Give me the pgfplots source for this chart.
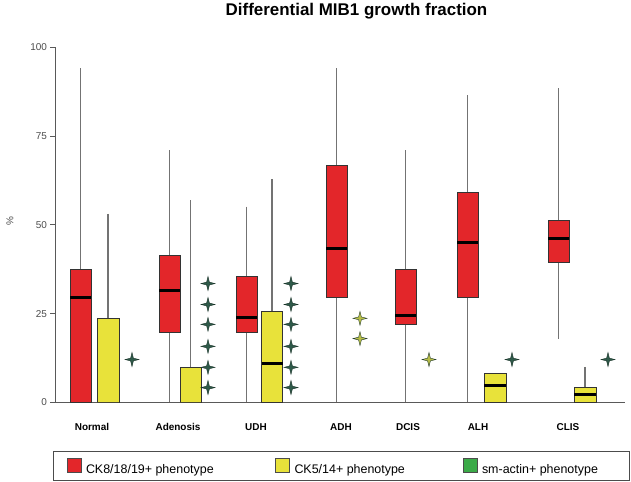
\documentclass[border=0pt]{standalone}
\usepackage{fontspec}
\setmainfont{Liberation Sans}
\usepackage{pgfplots}
\pgfplotsset{compat=1.18}
\usepgfplotslibrary{statistics}
\definecolor{cRed}{HTML}{E3262A}
\definecolor{cYel}{HTML}{E8E23A}
\definecolor{cGrn}{HTML}{3BAA48}
\definecolor{starDark}{HTML}{2F5A4A}
\definecolor{starEdge}{HTML}{1A3328}
\definecolor{starLight}{HTML}{B8BE48}
\pgfdeclareplotmark{fourstar}{%
  \pgfpathmoveto{\pgfpoint{0pt}{\pgfplotmarksize}}%
  \pgfpathlineto{\pgfpoint{0.2\pgfplotmarksize}{0.2\pgfplotmarksize}}%
  \pgfpathlineto{\pgfpoint{\pgfplotmarksize}{0pt}}%
  \pgfpathlineto{\pgfpoint{0.2\pgfplotmarksize}{-0.2\pgfplotmarksize}}%
  \pgfpathlineto{\pgfpoint{0pt}{-\pgfplotmarksize}}%
  \pgfpathlineto{\pgfpoint{-0.2\pgfplotmarksize}{-0.2\pgfplotmarksize}}%
  \pgfpathlineto{\pgfpoint{-\pgfplotmarksize}{0pt}}%
  \pgfpathlineto{\pgfpoint{-0.2\pgfplotmarksize}{0.2\pgfplotmarksize}}%
  \pgfpathclose
  \pgfusepathqfillstroke
}
\begin{document}
\begin{tikzpicture}
\path (0,0) rectangle (631bp,477bp);
\begin{axis}[
  at={(55bp,76bp)}, anchor=south west,
  scale only axis, width=570bp, height=355bp,
  xmin=55, xmax=625, ymin=0, ymax=100,
  axis x line=bottom, axis y line=left,
  axis line style={-, draw=black!65, line width=1bp},
  ytick={0,25,50,75,100},
  tick align=outside, major tick length=4.5bp,
  ytick style={draw=black!65, line width=1bp},
  xtick={92,178,256,341,408,478,568},
  xticklabels={Normal,Adenosis,UDH,ADH,DCIS,ALH,CLIS},
  xtick style={draw=none},
  xticklabel style={font=\bfseries\fontsize{10}{12}\selectfont, yshift=-13bp},
  yticklabel style={font=\fontsize{10}{12}\selectfont, text=black!70},
  /pgf/number format/assume math mode=true,
  title={Differential MIB1 growth fraction},
  title style={font=\bfseries\fontsize{17}{20}\selectfont, at={(axis description cs:0.529,1.073)}, anchor=base},
  ylabel={\%},
  ylabel style={at={(axis description cs:-0.079,0.51)}, anchor=center, font=\fontsize{10}{12}\selectfont, text=black!70},
  boxplot/draw direction=y,
  boxplot/whisker extend=0,
  boxplot/every whisker/.style={draw=black!55, line width=1.3bp},
  boxplot/every median/.style={draw=black, line width=2.8bp},
  boxplot/every box/.style={draw=black!80, line width=0.6bp},
  legend columns=3,
  legend style={at={(axis description cs:-0.0035,-0.138)}, anchor=north west, draw=black!70, line width=1bp, inner xsep=13bp, inner ysep=6bp, column sep=5bp, font=\fontsize{12.5}{15}\selectfont, nodes={inner sep=0pt}},
]
% CK8/18/19+ (red)
\addplot[forget plot, fill=cRed, boxplot prepared={draw position=80.5, lower whisker=0, lower quartile=0, median=29.6, upper quartile=37.5, upper whisker=94.2, box extend=21}] coordinates {};
\addplot[forget plot, fill=cRed, boxplot prepared={draw position=169.5, lower whisker=0, lower quartile=19.7, median=31.5, upper quartile=41.4, upper whisker=71, box extend=21}] coordinates {};
\addplot[forget plot, fill=cRed, boxplot prepared={draw position=246.5, lower whisker=0, lower quartile=19.7, median=24, upper quartile=35.5, upper whisker=55.2, box extend=21}] coordinates {};
\addplot[forget plot, fill=cRed, boxplot prepared={draw position=336.5, lower whisker=0, lower quartile=29.6, median=43.4, upper quartile=66.8, upper whisker=94.2, box extend=21}] coordinates {};
\addplot[forget plot, fill=cRed, boxplot prepared={draw position=405.5, lower whisker=0, lower quartile=22, median=24.5, upper quartile=37.5, upper whisker=71, box extend=21}] coordinates {};
\addplot[forget plot, fill=cRed, boxplot prepared={draw position=467.5, lower whisker=0, lower quartile=29.6, median=45, upper quartile=59.2, upper whisker=86.5, box extend=21}] coordinates {};
\addplot[forget plot, fill=cRed, boxplot prepared={draw position=558.5, lower whisker=18, lower quartile=39.4, median=46.2, upper quartile=51.3, upper whisker=88.5, box extend=21}] coordinates {};
% CK5/14+ (yellow)
\addplot[forget plot, fill=cYel, boxplot/every median/.style={draw=none}, boxplot prepared={draw position=108, lower whisker=0, lower quartile=0, median=0, upper quartile=23.7, upper whisker=53.2, box extend=22}] coordinates {};
\addplot[forget plot, fill=cYel, boxplot/every median/.style={draw=none}, boxplot prepared={draw position=190.5, lower whisker=0, lower quartile=0, median=0, upper quartile=9.9, upper whisker=57, box extend=21}] coordinates {};
\addplot[forget plot, fill=cYel, boxplot prepared={draw position=272, lower whisker=0, lower quartile=0, median=11, upper quartile=25.6, upper whisker=63, box extend=21}] coordinates {};
\addplot[forget plot, fill=cYel, boxplot prepared={draw position=495, lower whisker=0, lower quartile=0, median=4.8, upper quartile=8.2, upper whisker=8.2, box extend=22}] coordinates {};
\addplot[forget plot, fill=cYel, boxplot prepared={draw position=585, lower whisker=0, lower quartile=0, median=2.3, upper quartile=4.2, upper whisker=10.1, box extend=22}] coordinates {};
% outliers
\addplot[forget plot, only marks, mark=fourstar, mark size=7bp, mark options={fill=starDark, draw=starEdge, line width=0.4bp}] coordinates {
(132,12.1)
(208,33.5) (208,27.6) (208,22.0) (208,15.8) (208,9.9) (208,4.2)
(291,33.5) (291,27.6) (291,22.0) (291,15.8) (291,9.9) (291,4.2)
(512,12.1) (608,12.1)};
\addplot[forget plot, only marks, mark=fourstar, mark size=7bp, mark options={fill=starLight, draw=starEdge, line width=0.4bp}] coordinates {
(360,23.7) (360,18.0) (429,12.1)};
% legend
\addlegendimage{legend image code/.code={\draw[fill=cRed, draw=black!70, line width=0.5bp] (0bp,-2.5bp) rectangle (14bp,11.5bp);}}
\addlegendentry{\makebox[184bp][l]{CK8/18/19+ phenotype}}
\addlegendimage{legend image code/.code={\draw[fill=cYel, draw=black!70, line width=0.5bp] (0bp,-2.5bp) rectangle (14bp,11.5bp);}}
\addlegendentry{\makebox[163bp][l]{CK5/14+ phenotype}}
\addlegendimage{legend image code/.code={\draw[fill=cGrn, draw=black!70, line width=0.5bp] (0bp,-2.5bp) rectangle (14bp,11.5bp);}}
\addlegendentry{\makebox[134bp][l]{sm-actin+ phenotype}}
\end{axis}
\end{tikzpicture}
\end{document}
